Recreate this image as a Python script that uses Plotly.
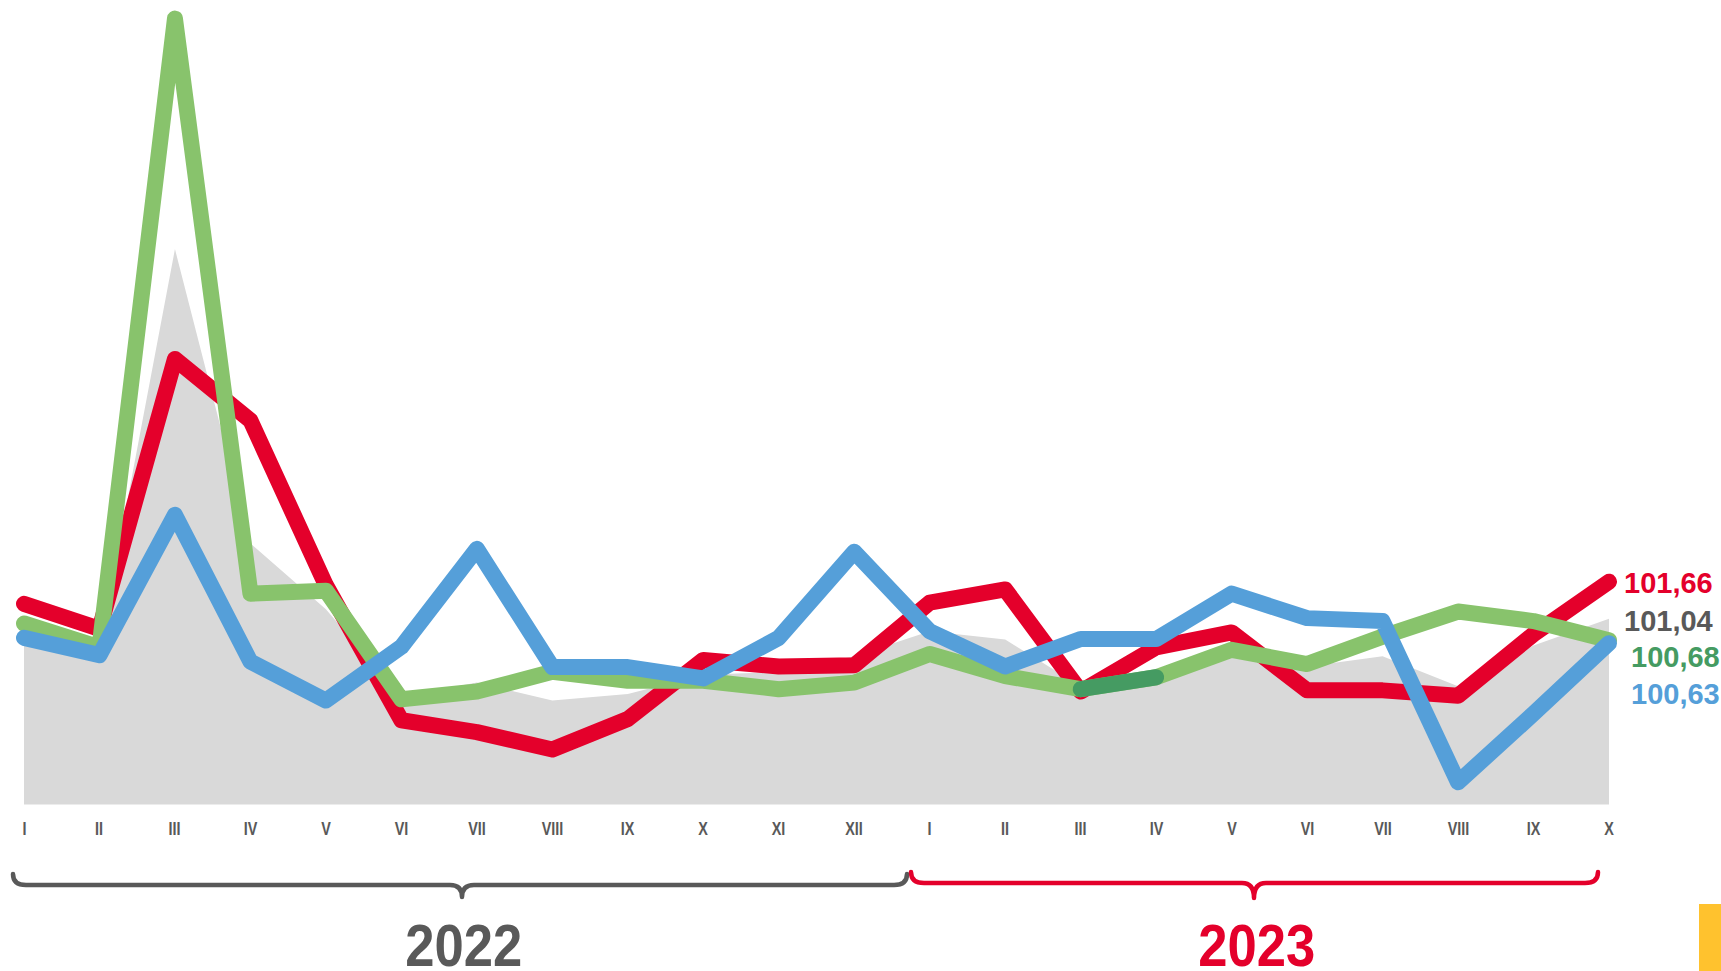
import plotly.graph_objects as go

months = ["I", "II", "III", "IV", "V", "VI", "VII", "VIII", "IX", "X", "XI", "XII",
          "I", "II", "III", "IV", "V", "VI", "VII", "VIII", "IX", "X"]
years = ["2022", "2023"]

red = [101.29, 100.87, 105.39, 104.36, 101.60, 99.34, 99.14, 98.85, 99.36, 100.35, 100.24, 100.26,
       101.31, 101.53, 99.82, 100.56, 100.81, 99.84, 99.84, 99.75, 100.78, 101.66]
gray = [100.85, 100.55, 107.23, 102.30, 101.20, 99.73, 99.97, 99.67, 99.78, 100.10, 100.15, 100.41,
        100.83, 100.69, 99.91, 100.15, 100.52, 100.24, 100.41, 99.91, 100.59, 101.04]
green = [100.96, 100.56, 111.09, 101.46, 101.51, 99.69, 99.82, 100.15, 100.00, 100.00, 99.86, 99.97,
         100.45, 100.08, 99.86, 100.06, 100.52, 100.28, 100.74, 101.16, 101.00, 100.68]
blue = [100.72, 100.43, 102.78, 100.32, 99.67, 100.57, 102.21, 100.23, 100.23, 100.04, 100.72, 102.16,
        100.83, 100.24, 100.70, 100.70, 101.46, 101.05, 101.00, 98.30, 99.45, 100.63]
base_value = 97.93
end_labels = ["101,66", "101,04", "100,68", "100,63"]

RED = "#E4002B"
GREEN = "#88C36C"
DKGREEN = "#459B62"
BLUE = "#559FD9"
GRAYFILL = "#D9D9D9"
TXT = "#595959"
YELLOW = "#FFC22E"

W, H = 1721, 971
idx = list(range(len(months)))

fig = go.Figure()
fig.add_trace(go.Scatter(x=idx, y=[base_value] * len(idx), mode="lines",
                         line=dict(width=0, color=GRAYFILL), hoverinfo="skip", showlegend=False))
fig.add_trace(go.Scatter(x=idx, y=gray, mode="lines", fill="tonexty", fillcolor=GRAYFILL,
                         line=dict(width=0, color=GRAYFILL), showlegend=False))
LW = 16
fig.add_trace(go.Scatter(x=idx, y=red, mode="lines", line=dict(color=RED, width=LW), showlegend=False))
fig.add_trace(go.Scatter(x=idx, y=green, mode="lines", line=dict(color=GREEN, width=LW), showlegend=False))
fig.add_trace(go.Scatter(x=idx[14:16], y=green[14:16], mode="lines", line=dict(color=DKGREEN, width=LW),
                         showlegend=False))
fig.add_trace(go.Scatter(x=idx, y=blue, mode="lines", line=dict(color=BLUE, width=LW), showlegend=False))


def px(x):
    return x / W


def py(y):
    return 1 - y / H


annotations = []
sans = "Liberation Sans, Arial, sans-serif"
for i, m in enumerate(months):
    annotations.append(dict(x=i, xref="x", y=py(829), yref="paper", text="<b>" + m + "</b>",
                            showarrow=False, font=dict(family=sans, size=18, color=TXT),
                            xanchor="center", yanchor="middle"))

annotations.append(dict(x=px(463), xref="paper", y=py(945), yref="paper", text="<b>" + years[0] + "</b>",
                        showarrow=False, font=dict(family=sans, size=60, color=TXT),
                        xanchor="center", yanchor="middle"))
annotations.append(dict(x=px(1256), xref="paper", y=py(945), yref="paper", text="<b>" + years[1] + "</b>",
                        showarrow=False, font=dict(family=sans, size=60, color=RED),
                        xanchor="center", yanchor="middle"))

lab_pos = [(1622, 583, RED), (1622, 621, TXT), (1629, 657, DKGREEN), (1629, 694, BLUE)]
for t, (lx, ly, c) in zip(end_labels, lab_pos):
    annotations.append(dict(x=px(lx), xref="paper", y=py(ly), yref="paper", text="<b>" + t + "</b>",
                            showarrow=False, font=dict(family=sans, size=29, color=c),
                            xanchor="left", yanchor="middle"))


def brace(x0, x1, xc, yt, yl, ytip, r=13, r2=12):
    pts = []
    pts.append("M %.5f,%.5f" % (px(x0), py(yt)))
    pts.append("Q %.5f,%.5f %.5f,%.5f" % (px(x0), py(yl), px(x0 + r), py(yl)))
    pts.append("L %.5f,%.5f" % (px(xc - r2), py(yl)))
    pts.append("Q %.5f,%.5f %.5f,%.5f" % (px(xc), py(yl), px(xc), py(ytip)))
    pts.append("Q %.5f,%.5f %.5f,%.5f" % (px(xc), py(yl), px(xc + r2), py(yl)))
    pts.append("L %.5f,%.5f" % (px(x1 - r), py(yl)))
    pts.append("Q %.5f,%.5f %.5f,%.5f" % (px(x1), py(yl), px(x1), py(yt)))
    return " ".join(pts)


shapes = [
    dict(type="path", xref="paper", yref="paper", path=brace(13, 907, 462, 874, 885, 897),
         line=dict(color=TXT, width=4.5)),
    dict(type="path", xref="paper", yref="paper", path=brace(911, 1598, 1254, 872, 883, 898),
         line=dict(color=RED, width=4.5)),
    dict(type="rect", xref="paper", yref="paper", x0=px(1699), x1=px(1721), y0=py(971), y1=py(904),
         fillcolor=YELLOW, line=dict(width=0)),
]

# x: point 0 at px 24, point 21 at px 1609
step = (1609 - 24) / 21
xr = [-24 / step, 21 + (W - 1609) / step]
# y mapping: pixel = 643.2 - (v - 100.63) * 59.71
yr = [100.63 - (H - 643.2) / 59.71, 100.63 + 643.2 / 59.71]

fig.update_layout(
    width=W, height=H, margin=dict(l=0, r=0, t=0, b=0),
    paper_bgcolor="white", plot_bgcolor="white",
    xaxis=dict(visible=False, range=xr, fixedrange=True),
    yaxis=dict(visible=False, range=yr, fixedrange=True),
    annotations=annotations, shapes=shapes, showlegend=False,
)

post = """
(function(){
  var s = document.createElement('style');
  s.innerHTML = 'html, body { margin: 0 !important; padding: 0 !important; overflow: hidden; }' +
    '.js-line, .shapelayer path { stroke-linejoin: round !important; stroke-linecap: round !important; }';
  document.head.appendChild(s);
  function squeeze(){
    var els = document.querySelectorAll('.annotation-text');
    els.forEach(function(el){
      var t = (el.textContent || '').trim();
      var f = null;
      el.removeAttribute('transform');
      var bb = el.getBBox();
      if (/^[IVX]+$/.test(t)) { f = 0.8; }
      else if (/^20\\d\\d$/.test(t)) { f = 117 / bb.width; }
      if (f) {
        var cx = bb.x + bb.width / 2;
        el.setAttribute('transform', 'translate(' + cx + ',0) scale(' + f + ',1) translate(' + (-cx) + ',0)');
      }
    });
  }
  squeeze();
  setTimeout(squeeze, 200);
  setTimeout(squeeze, 800);
})();
"""
fig.write_html("out.html", post_script=post, config={"displayModeBar": False})
